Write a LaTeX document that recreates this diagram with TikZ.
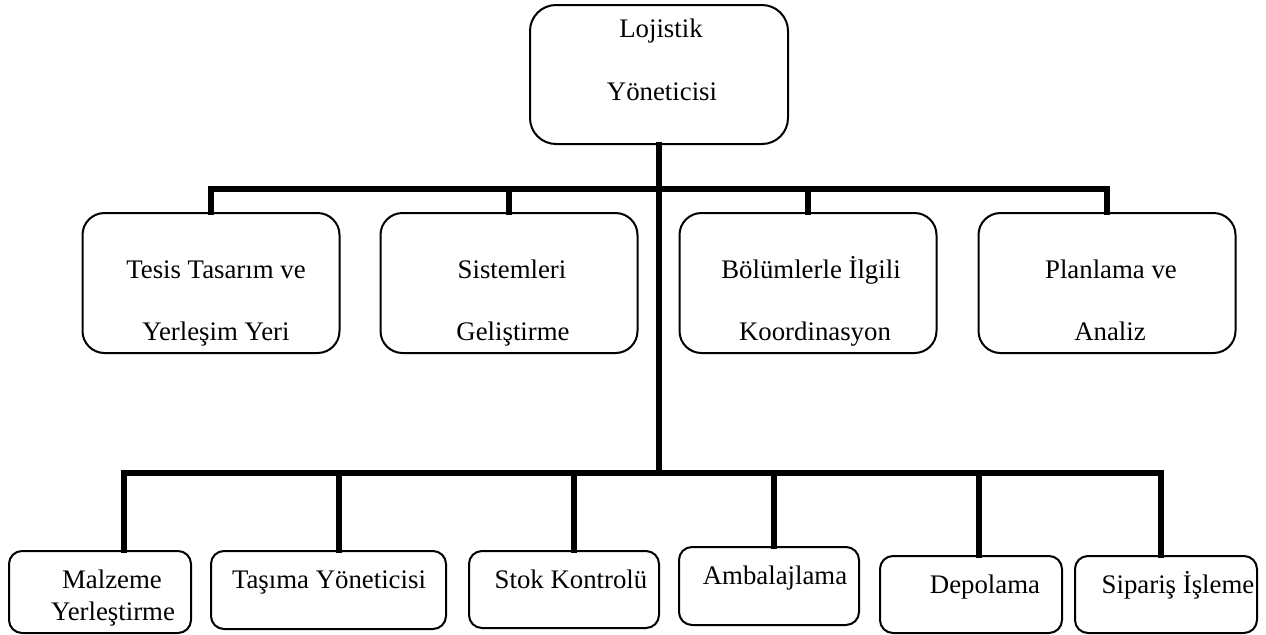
\documentclass[tikz,border=0pt]{standalone}
\usepackage{fontspec}
\setmainfont{Liberation Serif}
\usepackage{tikz}
\tikzset{
  orgbar/.style={line width=3pt, draw=black, line cap=rect},
  orgbox/.style={rectangle, draw=black, line width=1pt, fill=white, inner sep=0pt},
  orgtop/.style={orgbox, rounded corners=13pt, minimum width=129pt, minimum height=69.5pt},
  orgmid/.style={orgbox, rounded corners=11pt, minimum width=128.5pt, minimum height=70pt},
  orglow/.style={orgbox, rounded corners=6.5pt},
  orgtext/.style={anchor=base, inner sep=0pt, font=\fontsize{13.4}{15}\selectfont},
}

\begin{document}
\begin{tikzpicture}[x=0.5pt, y=-0.5pt]
\useasboundingbox (0,0) rectangle (1266,634);
% top
\node[orgtop] (lojistik) at (659,74.5) {};
\node[orgtext] (lojistik-a) at (661,37) {Lojistik};
\node[orgtext] (lojistik-b) at (662,100) {Yöneticisi};
% second row
\node[orgmid] (tesis) at (211,283) {};
\node[orgmid] (sistem) at (509,283) {};
\node[orgmid] (koord) at (808,283) {};
\node[orgmid] (plan) at (1107,283) {};
\node[orgtext] (tesis-a) at (216,278) {Tesis Tasarım ve};
\node[orgtext] (tesis-b) at (216,340) {Yerleşim Yeri};
\node[orgtext] (sistem-a) at (512,278) {Sistemleri};
\node[orgtext] (sistem-b) at (513,340) {Geliştirme};
\node[orgtext] (koord-a) at (811,278) {Bölümlerle İlgili};
\node[orgtext] (koord-b) at (815,340) {Koordinasyon};
\node[orgtext] (plan-a) at (1111,278) {Planlama ve};
\node[orgtext] (plan-b) at (1110,340) {Analiz};
% third row
\node[orglow, minimum width=91pt, minimum height=41pt] (malzeme) at (100,592) {};
\node[orglow, minimum width=117.5pt, minimum height=39pt] (tasima) at (328.5,590) {};
\node[orglow, minimum width=95pt, minimum height=38.5pt] (stok) at (564,589.5) {};
\node[orglow, minimum width=90pt, minimum height=39pt] (ambalaj) at (769,586) {};
\node[orglow, minimum width=91pt, minimum height=38.5pt] (depo) at (971,594.5) {};
\node[orglow, minimum width=91pt, minimum height=38.5pt] (siparis) at (1166,594.5) {};
\node[orgtext] (malzeme-a) at (112,588) {Malzeme};
\node[orgtext] (malzeme-b) at (113,620) {Yerleştirme};
\node[orgtext] (tasima-a) at (329,588) {Taşıma Yöneticisi};
\node[orgtext] (stok-a) at (571,588) {Stok Kontrolü};
\node[orgtext] (ambalaj-a) at (775,584) {Ambalajlama};
\node[orgtext] (depo-a) at (985,593) {Depolama};
\node[orgtext] (siparis-a) at (1178,593) {Sipariş İşleme};
% connectors
\coordinate (bar2) at (659,189);
\coordinate (bar3) at (659,473);
\draw[orgbar] (lojistik.south) -- (lojistik.south |- bar2);
\draw[orgbar] (tesis.north |- bar2) -- (plan.north |- bar2);
\draw[orgbar] (tesis.north |- bar2) -- (tesis.north);
\draw[orgbar] (sistem.north |- bar2) -- (sistem.north);
\draw[orgbar] (koord.north |- bar2) -- (koord.north);
\draw[orgbar] (plan.north |- bar2) -- (plan.north);
\draw[orgbar] (bar2) -- (bar3);
\coordinate (s1) at (124,473);
\coordinate (s2) at (339,473);
\coordinate (s3) at (574,473);
\coordinate (s4) at (774,473);
\coordinate (s5) at (979,473);
\coordinate (s6) at (1161,473);
\draw[orgbar] (s1) -- (s6);
\draw[orgbar] (s1) -- (s1 |- malzeme.north);
\draw[orgbar] (s2) -- (s2 |- tasima.north);
\draw[orgbar] (s3) -- (s3 |- stok.north);
\draw[orgbar] (s4) -- (s4 |- ambalaj.north);
\draw[orgbar] (s5) -- (s5 |- depo.north);
\draw[orgbar] (s6) -- (s6 |- siparis.north);
\end{tikzpicture}
\end{document}
